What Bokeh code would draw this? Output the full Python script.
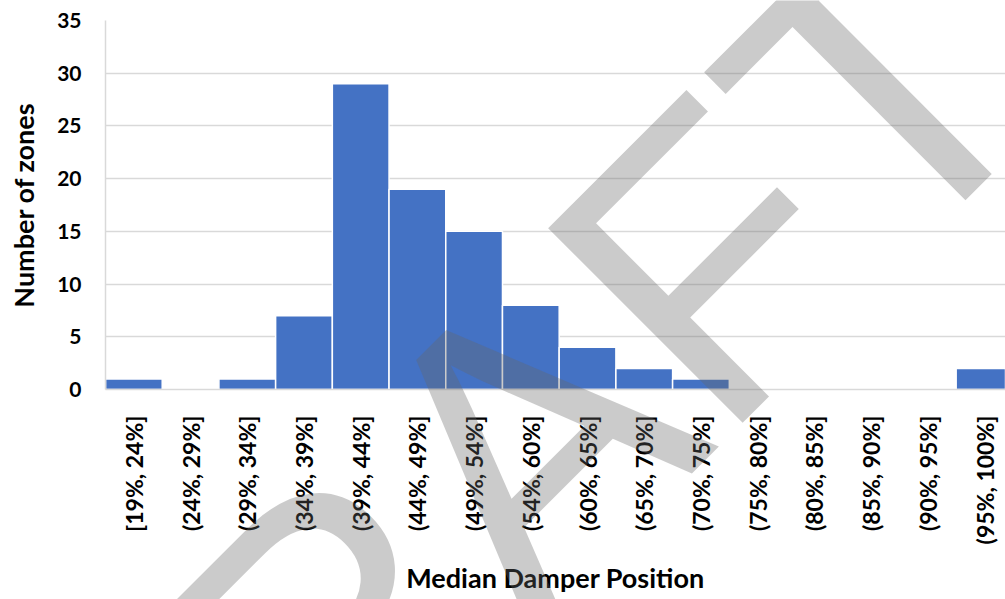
import math

from bokeh.core.properties import value
from bokeh.embed import file_html
from bokeh.models import Column, FixedTicker, Range1d
from bokeh.plotting import figure
from bokeh.resources import INLINE

bins = ["[19%, 24%]", "(24%, 29%]", "(29%, 34%]", "(34%, 39%]", "(39%, 44%]",
        "(44%, 49%]", "(49%, 54%]", "(54%, 60%]", "(60%, 65%]", "(65%, 70%]",
        "(70%, 75%]", "(75%, 80%]", "(80%, 85%]", "(85%, 90%]", "(90%, 95%]",
        "(95%, 100%]"]
zones = [1, 0, 1, 7, 29, 19, 15, 8, 4, 2, 1, 0, 0, 0, 0, 2]
positions = list(range(len(bins)))

FONT = "Lato"
W, H = 1005, 599
LEFT, TOP, BOTTOM = 105, 20, 210
X_RANGE = (-0.5, 15.37)
Y_RANGE = (0, 35)

p = figure(width=W, height=H,
           x_range=Range1d(*X_RANGE), y_range=Range1d(*Y_RANGE),
           output_backend="svg", toolbar_location=None,
           min_border_left=LEFT, min_border_right=0, min_border_top=TOP,
           min_border_bottom=BOTTOM,
           x_axis_label="Median Damper Position", y_axis_label="Number of zones")
p.outline_line_color = None

p.vbar(x=positions, top=zones, width=1.0, bottom=0,
       fill_color="#4472C4", line_color="white", line_width=1.5)

# axes
p.xaxis.ticker = FixedTicker(ticks=positions)
p.xaxis.major_label_overrides = {i: b for i, b in enumerate(bins)}
p.xaxis.major_label_orientation = math.pi / 2
p.yaxis.ticker = FixedTicker(ticks=[0, 5, 10, 15, 20, 25, 30, 35])
for ax in (p.xaxis[0], p.yaxis[0]):
    ax.axis_line_color = "#d9d9d9"
    ax.axis_line_width = 1.5
    ax.major_tick_line_color = None
    ax.minor_tick_line_color = None
    ax.major_label_text_font = FONT
    ax.major_label_text_font_style = "bold"
    ax.major_label_text_color = "black"
    ax.axis_label_text_font = FONT
    ax.axis_label_text_font_style = "bold"
    ax.axis_label_text_color = "black"
p.xaxis.major_label_text_font_size = "23px"
p.xaxis.major_label_standoff = 20
p.xaxis.axis_label_text_font_size = "27px"
p.xaxis.axis_label_standoff = 14
p.yaxis.major_label_text_font_size = "21px"
p.yaxis.major_label_standoff = 18
p.yaxis.axis_label_text_font_size = "27px"
p.yaxis.axis_label_standoff = 14

p.xgrid.grid_line_color = None
p.ygrid.grid_line_color = "#d9d9d9"
p.ygrid.grid_line_width = 1.5

# DRAFT watermark: a transparent figure laid over the whole chart so the
# text is not clipped to the frame. The column lines up both frames
# horizontally, so only the vertical range has to be widened.
px_y = (H - TOP - BOTTOM) / (Y_RANGE[1] - Y_RANGE[0])
wm = figure(width=W, height=H, output_backend="svg", toolbar_location=None,
            x_range=Range1d(*X_RANGE),
            y_range=Range1d(Y_RANGE[0] - BOTTOM / px_y, Y_RANGE[1] + TOP / px_y),
            min_border_left=LEFT, min_border_right=0,
            min_border_top=0, min_border_bottom=0,
            x_axis_location=None, y_axis_location=None)
wm.grid.visible = False
wm.outline_line_color = None
wm.background_fill_color = None
wm.border_fill_color = None
wm.text(x=[6.38], y=[-8.0], text=["DRAFT"], angle=0.785,
        text_font=value("Liberation Sans"), text_font_style="normal",
        text_font_size="400px", text_color="#686868", text_alpha=0.34,
        text_align="center", text_baseline="middle")
wm.styles = {"position": "absolute", "top": "0px", "left": "0px",
             "pointer-events": "none"}

page = Column(children=[p, wm], styles={"position": "relative"})

open("out.html", "w").write(file_html(page, INLINE))
